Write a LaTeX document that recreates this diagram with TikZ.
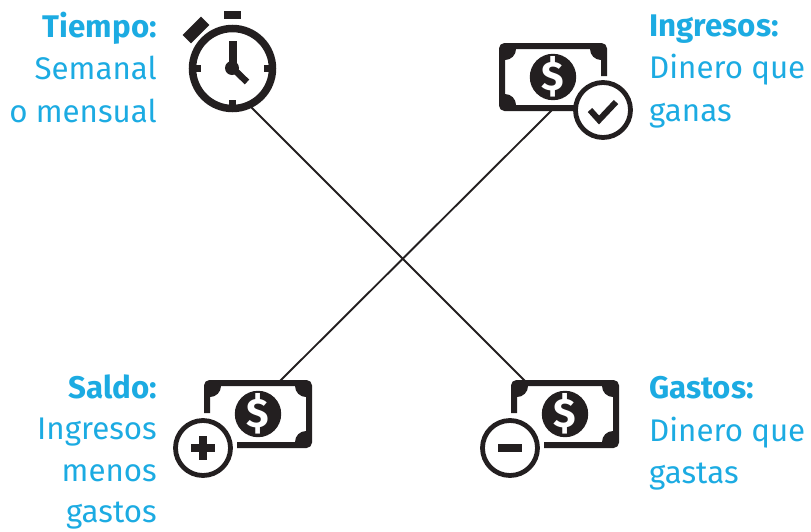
\documentclass[tikz,border=0pt]{standalone}
\usepackage{fontspec}
\setmainfont{Fira Sans}
\definecolor{ink}{HTML}{231F20}
\definecolor{sky}{HTML}{1CABE2}
\tikzset{
  wire/.style={draw=ink,line width=1.9pt},
  caption/.style={text=sky,inner sep=0pt,font=\fontsize{31.3}{42.5}\selectfont},
  badge/.style={circle,draw=ink,fill=white,line width=4.8pt,minimum size=55pt,inner sep=0pt},
  disc/.style={circle,fill=ink,text=white,minimum size=42pt,inner sep=0pt,font=\fontsize{41}{41}\selectfont\bfseries},
  bar/.style={fill=ink,inner sep=0pt},
  billicon/.pic={
    \draw[ink,line width=6pt,rounded corners=3pt] (-51,-1) -- (-51,-31) -- (51,-31) -- (51,31) -- (-21,31);
    \fill[ink] (-48,-28) ++(11,0) arc[start angle=0,end angle=90,radius=11] -- (-48,-28) -- cycle;
    \fill[ink] (48,-28) ++(-11,0) arc[start angle=180,end angle=90,radius=11] -- (48,-28) -- cycle;
    \fill[ink] (48,28) ++(-11,0) arc[start angle=180,end angle=270,radius=11] -- (48,28) -- cycle;
    \node[disc] (-disc) at (0,0) {\$};
  }
}
\begin{document}
\begin{tikzpicture}[x=1pt,y=-1pt]
   \useasboundingbox (0,0) rectangle (811,531);
   % stopwatch
   \node[circle,draw=ink,line width=7.5pt,minimum size=80pt,inner sep=0pt] (clock) at (232.5,68.5) {};
   \node[bar,minimum width=17pt,minimum height=8pt] (topbutton) at (232.5,15) {};
   \node[bar,minimum width=26pt,minimum height=12pt,rotate=45] (sidebutton) at (196,30) {};
   \draw[ink,line width=7pt] (clock.west) ++(3,0) -- ++(9,0);
   \draw[ink,line width=7pt] (clock.east) ++(-3,0) -- ++(-9,0);
   \draw[ink,line width=7pt] (clock.south) ++(0,-3) -- ++(0,-9);
   \draw[ink,line width=8pt] (232.5,41) -- (232.5,68);
   \draw[ink,line width=6.5pt] (232.5,68) -- (247,82);
   \fill[ink] (232,68) circle[radius=7];
   % bills
   \pic (ingresos) at (553,77) [xscale=-1] {billicon};
   \pic (saldo) at (258,414) {billicon};
   \pic (gastos) at (565,414) {billicon};
   \node[badge] (ingresosbadge) at (603,110) {};
   \node[badge] (saldobadge) at (203,448) {};
   \node[badge] (gastosbadge) at (510,448) {};
   \draw[ink,line width=6pt] (590,110) -- (599,120) -- (616,102);
   \node[bar,minimum width=24pt,minimum height=8pt] (plusa) at (saldobadge) {};
   \node[bar,minimum width=8pt,minimum height=24pt] (plusb) at (saldobadge) {};
   \node[bar,minimum width=24pt,minimum height=8pt] (minus) at (gastosbadge) {};
   % the cross
   \coordinate (clockend) at (250,106);
   \coordinate (gastosend) at (525,381);
   \coordinate (ingresosend) at (552,110);
   \coordinate (saldoend) at (280,381);
   \draw[wire] (clockend) -- (gastosend);
   \draw[wire] (ingresosend) -- (saldoend);
   % captions
   \node[caption,anchor=north east,align=right] (tiempo) at (157,11.5) {\textbf{Tiempo:}\\Semanal\\o mensual};
   \node[caption,anchor=north west,align=left] (ingresostext) at (649,14.5) {\textbf{Ingresos:}\\Dinero que\\ganas};
   \node[caption,font=\fontsize{31.3}{41.5}\selectfont,anchor=north east,align=right] (saldotext) at (157,374.5) {\textbf{Saldo:}\\Ingresos\\menos\\gastos};
   \node[caption,anchor=north west,align=left] (gastostext) at (649,376.5) {\textbf{Gastos:}\\Dinero que\\gastas};
\end{tikzpicture}
\end{document}
